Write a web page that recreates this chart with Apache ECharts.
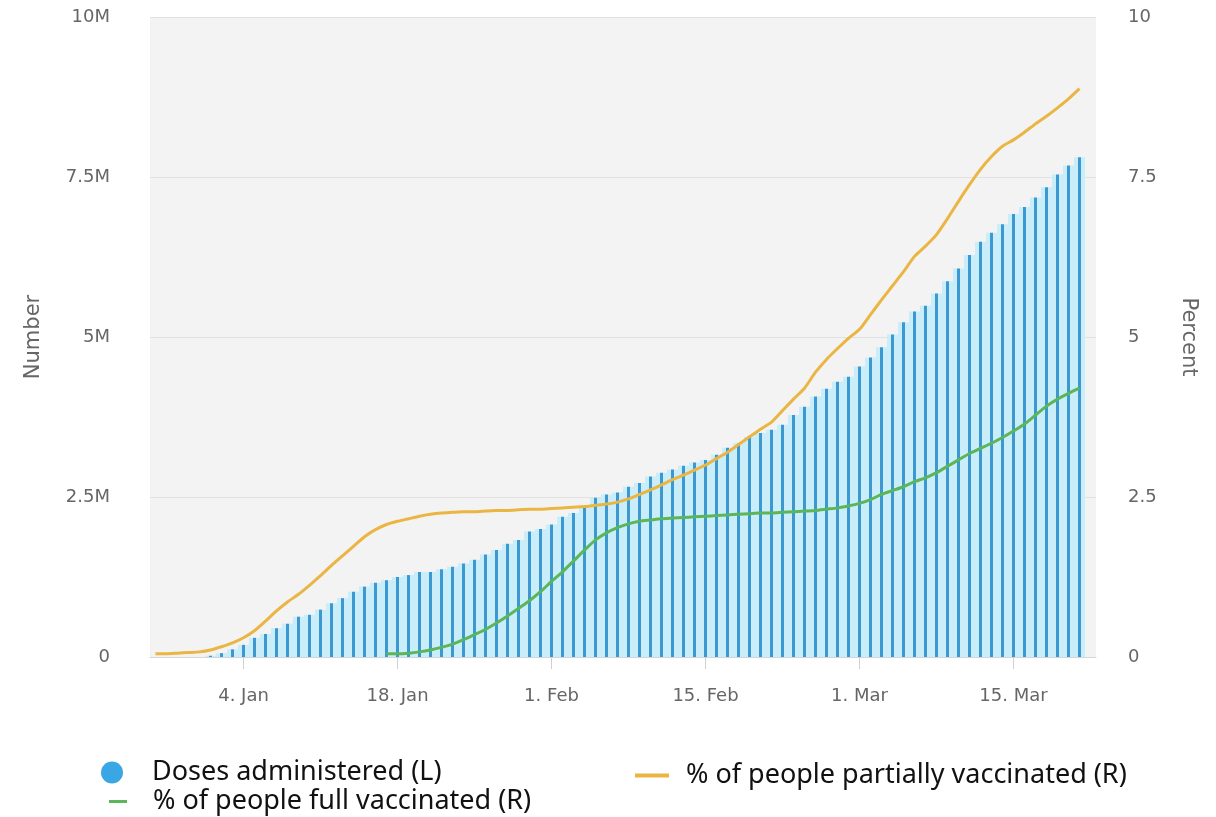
<!DOCTYPE html>
<html>
<head>
<meta charset="utf-8">
<title>Vaccination progress</title>
<script src="https://cdn.jsdelivr.net/npm/echarts@6/dist/echarts.min.js"></script>
<style>
  html, body { margin: 0; padding: 0; background: #ffffff; }
  #chart { width: 1216px; height: 817px; }
</style>
</head>
<body>
<div id="chart"></div>
<script>
// Daily categories: 27 Dec 2020 – 22 Mar 2021
const startDate = new Date(Date.UTC(2020, 11, 27));
const dayCount = 86;
const monthNames = ['Jan','Feb','Mar','Apr','May','Jun','Jul','Aug','Sep','Oct','Nov','Dec'];
const days = [];
for (let i = 0; i < dayCount; i++) {
  const d = new Date(startDate.getTime() + i * 86400000);
  days.push(d.getUTCDate() + '. ' + monthNames[d.getUTCMonth()]);
}

// Dates that carry an x-axis label
const tickLabels = ['4. Jan', '18. Jan', '1. Feb', '15. Feb', '1. Mar', '15. Mar'];

// Doses administered, millions (left axis)
const dosesM = [
  null, null, null, null, null,
  0.02, 0.06, 0.12, 0.19, 0.30, 0.36, 0.45, 0.52, 0.63, 0.66,
  0.74, 0.84, 0.92, 1.02, 1.10, 1.16, 1.20, 1.25, 1.28, 1.33,
  1.33, 1.37, 1.41, 1.46, 1.52, 1.60, 1.67, 1.77, 1.83, 1.96, 2.00,
  2.07, 2.19, 2.25, 2.33, 2.49, 2.54, 2.57, 2.66, 2.72, 2.82,
  2.88, 2.93, 2.99, 3.04, 3.08, 3.16, 3.27, 3.34, 3.44, 3.50,
  3.55, 3.63, 3.78, 3.91, 4.07, 4.19, 4.30, 4.38,
  4.54, 4.68, 4.84, 5.04, 5.23, 5.40, 5.49, 5.68, 5.87, 6.07,
  6.28, 6.49, 6.63, 6.76, 6.92, 7.03, 7.18, 7.34, 7.54, 7.68, 7.81,
  null
];

// % of people partially vaccinated (right axis)
const partialPct = [
  0.05, 0.05, 0.06, 0.07, 0.08,
  0.11, 0.16, 0.22, 0.30, 0.41, 0.56, 0.72, 0.86, 0.98, 1.12,
  1.27, 1.43, 1.58, 1.73, 1.88, 1.99, 2.07, 2.12, 2.16, 2.20,
  2.23, 2.25, 2.26, 2.27, 2.27, 2.28, 2.29, 2.29, 2.30, 2.31, 2.31,
  2.32, 2.33, 2.34, 2.35, 2.37, 2.39, 2.42, 2.47, 2.54, 2.61,
  2.69, 2.77, 2.84, 2.92, 3.00, 3.10, 3.20, 3.32, 3.44, 3.56,
  3.67, 3.85, 4.03, 4.20, 4.45, 4.65, 4.82, 4.98,
  5.12, 5.35, 5.58, 5.80, 6.02, 6.26, 6.42, 6.60, 6.85, 7.12,
  7.38, 7.62, 7.82, 7.98, 8.08, 8.20, 8.33, 8.45, 8.58, 8.72, 8.88,
  null
];

// % of people fully vaccinated (right axis)
const fullPct = [
  null, null, null, null, null,
  null, null, null, null, null, null, null, null, null, null,
  null, null, null, null, null, null,
  0.05, 0.05, 0.06, 0.08, 0.11, 0.15, 0.20, 0.27, 0.35, 0.43,
  0.53, 0.64, 0.76, 0.88, 1.02,
  1.18, 1.33, 1.50, 1.67, 1.83, 1.94, 2.02, 2.08, 2.12, 2.14,
  2.16, 2.17, 2.18, 2.19, 2.20, 2.21, 2.22, 2.23, 2.24, 2.25,
  2.25, 2.26, 2.27, 2.28, 2.29, 2.31, 2.33, 2.36,
  2.40, 2.46, 2.54, 2.60, 2.66, 2.74, 2.80, 2.88, 2.98, 3.08,
  3.18, 3.26, 3.34, 3.43, 3.53, 3.64, 3.78, 3.92, 4.03, 4.12, 4.20,
  null
];

const leftTicks = ['0', '2.5M', '5M', '7.5M', '10M'];
const rightTicks = ['0', '2.5', '5', '7.5', '10'];

const seriesNames = {
  doses: 'Doses administered (L)',
  full: '% of people full vaccinated (R)',
  partial: '% of people partially vaccinated (R)'
};

const colors = {
  bar: '#3b98d0',
  barHalo: '#c9edf9',
  legendDot: '#3aa6e4',
  partial: '#ebb543',
  full: '#5bb65a'
};

const axisFont = 'DejaVu Sans';
const legendFont = 'Noto Sans';
const legendText = { fontFamily: legendFont, fontSize: 27, color: '#111' };
const isLabelled = (idx, value) => tickLabels.indexOf(value) !== -1;

const chart = echarts.init(document.getElementById('chart'), null, { renderer: 'canvas' });

chart.setOption({
  animation: false,
  backgroundColor: '#ffffff',
  grid: {
    left: 150, right: 120, top: 17, bottom: 160,
    show: true, backgroundColor: '#f3f3f3', borderWidth: 0
  },
  legend: [
    {
      data: [{ name: seriesNames.doses, icon: 'circle', itemStyle: { color: colors.legendDot } }],
      left: 96, top: 754,
      itemWidth: 22, itemHeight: 24,
      textStyle: Object.assign({ padding: [0, 0, 0, 24] }, legendText)
    },
    {
      data: [{ name: seriesNames.full, icon: 'rect', itemStyle: { color: colors.full } }],
      left: 104, top: 783,
      itemWidth: 18, itemHeight: 3,
      textStyle: Object.assign({ padding: [0, 0, 0, 21] }, legendText)
    },
    {
      data: [{ name: seriesNames.partial, icon: 'rect', itemStyle: { color: colors.partial } }],
      left: 630, top: 757,
      itemWidth: 34, itemHeight: 4,
      textStyle: Object.assign({ padding: [0, 0, 0, 12] }, legendText)
    }
  ],
  xAxis: {
    type: 'category',
    data: days,
    boundaryGap: true,
    axisLine: { lineStyle: { color: '#d6d6d6', width: 1 } },
    axisTick: { show: true, alignWithLabel: true, interval: isLabelled, length: 12, lineStyle: { color: '#d0d0d0' } },
    axisLabel: {
      interval: isLabelled,
      margin: 30,
      color: '#666',
      fontFamily: axisFont,
      fontSize: 18
    },
    splitLine: { show: false }
  },
  yAxis: [
    {
      type: 'value',
      min: 0, max: 10, interval: 2.5,
      name: 'Number',
      nameLocation: 'middle',
      nameGap: 106,
      nameTextStyle: { color: '#666', fontFamily: axisFont, fontSize: 21 },
      axisLine: { show: false },
      axisTick: { show: false },
      axisLabel: {
        margin: 40,
        color: '#666',
        fontFamily: axisFont,
        fontSize: 18,
        formatter: (v) => leftTicks[Math.round(v / 2.5)]
      },
      splitLine: { lineStyle: { color: '#e1e1e1', width: 1 } }
    },
    {
      type: 'value',
      min: 0, max: 10, interval: 2.5,
      position: 'right',
      name: 'Percent',
      nameLocation: 'middle',
      nameRotate: -90,
      nameGap: 82,
      nameTextStyle: { color: '#666', fontFamily: axisFont, fontSize: 21 },
      axisLine: { show: false },
      axisTick: { show: false },
      axisLabel: {
        margin: 32,
        color: '#666',
        fontFamily: axisFont,
        fontSize: 18,
        formatter: (v) => rightTicks[Math.round(v / 2.5)]
      },
      splitLine: { show: false }
    }
  ],
  series: [
    {
      name: seriesNames.doses,
      type: 'bar',
      yAxisIndex: 0,
      data: dosesM,
      barCategoryGap: '0%',
      itemStyle: {
        color: new echarts.graphic.LinearGradient(0, 0, 1, 0, [
          { offset: 0, color: colors.barHalo },
          { offset: 0.36, color: colors.barHalo },
          { offset: 0.36, color: colors.bar },
          { offset: 0.64, color: colors.bar },
          { offset: 0.64, color: colors.barHalo },
          { offset: 1, color: colors.barHalo }
        ])
      },
      emphasis: { disabled: true }
    },
    {
      name: seriesNames.partial,
      type: 'line',
      yAxisIndex: 1,
      data: partialPct,
      showSymbol: false,
      smooth: 0.2,
      lineStyle: { color: colors.partial, width: 3 },
      itemStyle: { color: colors.partial },
      z: 4
    },
    {
      name: seriesNames.full,
      type: 'line',
      yAxisIndex: 1,
      data: fullPct,
      showSymbol: false,
      smooth: 0.2,
      lineStyle: { color: colors.full, width: 3 },
      itemStyle: { color: colors.full },
      z: 5
    }
  ]
});
</script>
</body>
</html>
